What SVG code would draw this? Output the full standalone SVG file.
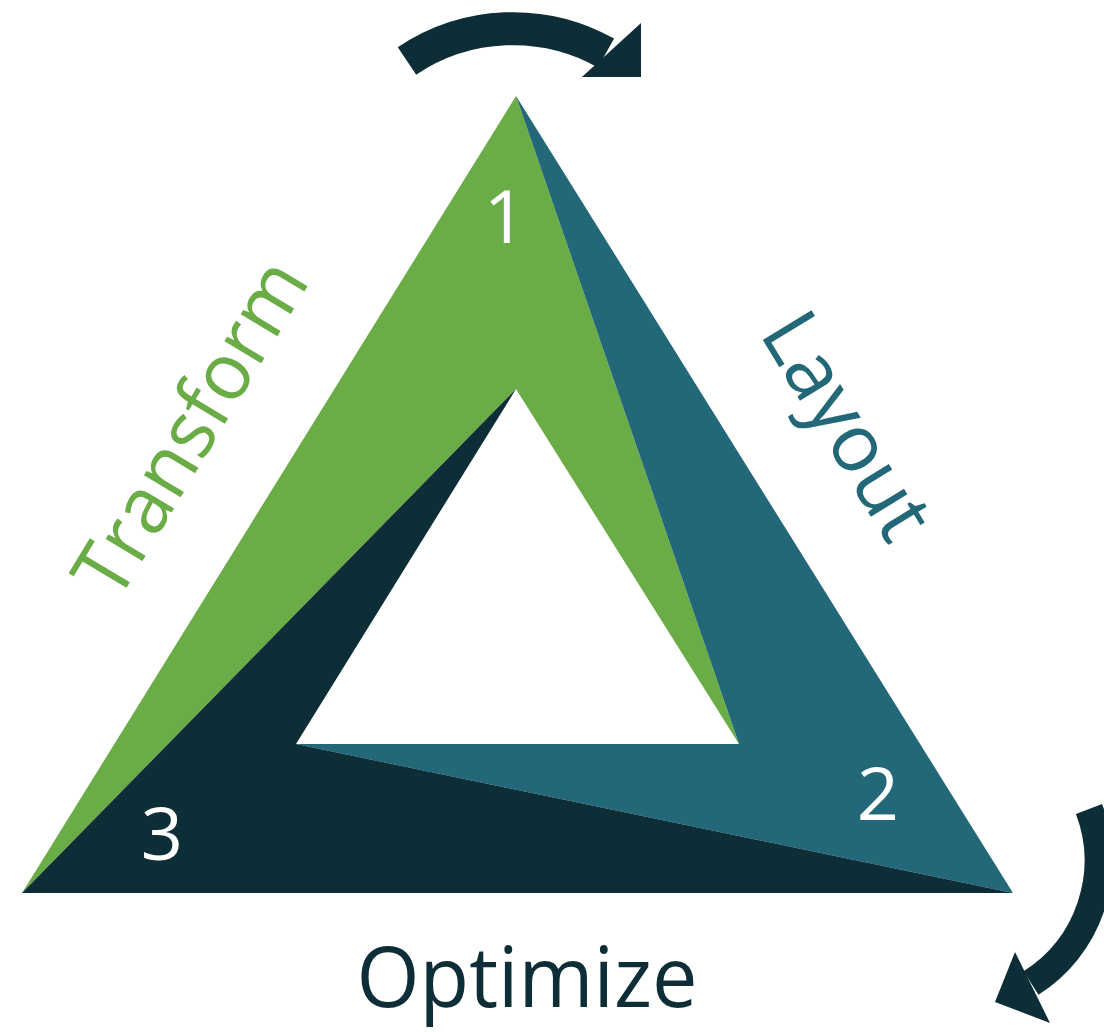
<svg xmlns="http://www.w3.org/2000/svg" width="1104" height="1032" viewBox="0 0 1104 1032">
  <style>
    .lbl { font-family: "Open Sans", "Liberation Sans", sans-serif; }
    .num { font-family: "Open Sans", "Liberation Sans", sans-serif; font-size: 74px; fill: #ffffff; text-anchor: middle; }
    .arc { fill: none; stroke: #0D2E36; }
    .head { fill: #0D2E36; }
  </style>
  <rect width="1104" height="1032" fill="#ffffff"/>
  <g id="segment-transform">
    <polygon points="516,96 22,893 516,389 739,744" fill="#6AAC46"/>
  </g>
  <g id="segment-layout">
    <polygon points="516,96 1013,893 296,744 739,744" fill="#236878"/>
  </g>
  <g id="segment-optimize">
    <polygon points="22,893 1013,893 296,744 516,389" fill="#0D2E36"/>
  </g>
  <g id="numbers">
    <text class="num" x="505" y="243">1</text>
    <text class="num" x="878" y="820">2</text>
    <text class="num" x="162" y="860">3</text>
  </g>
  <g id="label-transform">
    <text class="lbl" transform="translate(214,442) rotate(-59)" font-size="80" fill="#6AAC46" text-anchor="middle" textLength="376" lengthAdjust="spacingAndGlyphs">Transform</text>
  </g>
  <g id="label-layout">
    <text class="lbl" transform="translate(824,440) rotate(58.5)" font-size="80" fill="#236878" text-anchor="middle" textLength="250" lengthAdjust="spacingAndGlyphs">Layout</text>
  </g>
  <g id="label-optimize">
    <text class="lbl" x="527" y="1007" font-size="84" fill="#0D2E36" text-anchor="middle" textLength="341" lengthAdjust="spacingAndGlyphs">Optimize</text>
  </g>
  <g id="connectors">
    <path class="arc" d="M407,61 A190,190 0 0 1 606,53" stroke-width="33"/>
    <polygon class="head" points="641,23 641,77 582,77"/>
    <path class="arc" d="M1089,809 A145,145 0 0 1 1031,983" stroke-width="28"/>
    <polygon class="head" points="995,1002 1015,952 1050,1023"/>
  </g>
</svg>
